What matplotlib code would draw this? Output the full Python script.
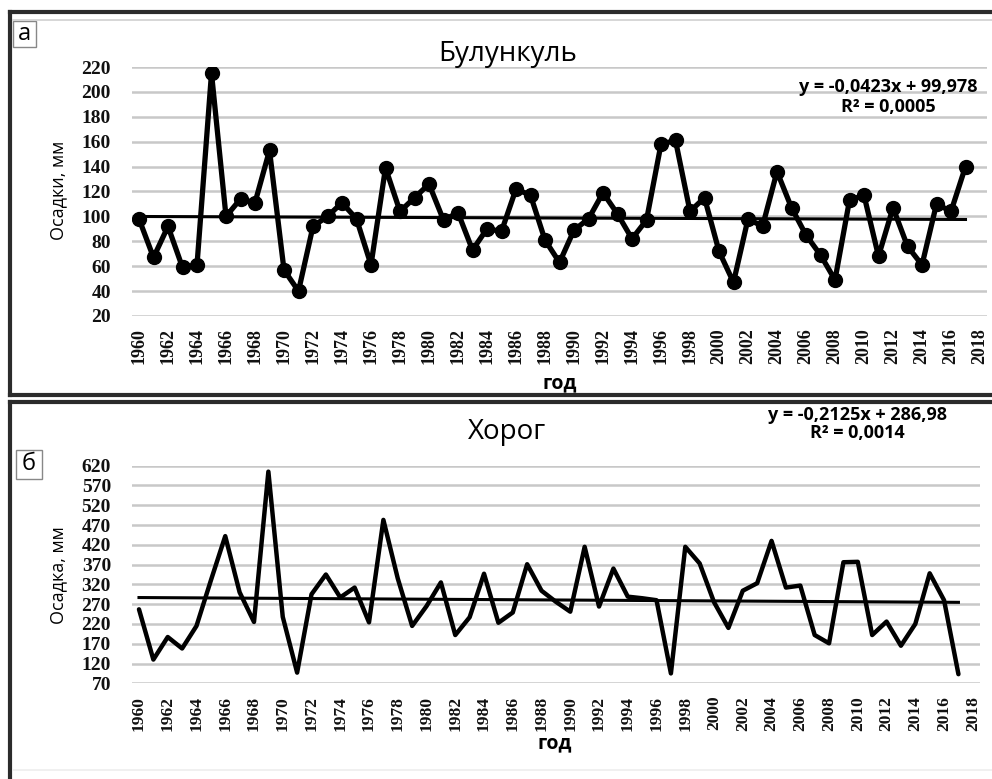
import numpy as np
import matplotlib.pyplot as plt
from matplotlib.lines import Line2D
from matplotlib.patches import Rectangle

years = list(range(1960, 2019))

# Булункуль, осадки, мм (1960-2017)
bulunkul = [98, 67, 92, 59, 61, 215, 100, 114, 111, 153,
            57, 40, 92, 100, 111, 98, 61, 139, 104, 115,
            126, 97, 103, 73, 90, 88, 122, 117, 81, 63,
            89, 98, 119, 102, 82, 97, 158, 161, 104, 115,
            72, 47, 98, 92, 136, 107, 85, 69, 49, 113,
            117, 68, 107, 76, 61, 110, 104, 140]

# Хорог, осадка, мм (1960-2017)
khorog = [257, 130, 187, 158, 215, 330, 442, 300, 225, 605,
          238, 97, 295, 345, 287, 312, 224, 483, 335, 215,
          265, 325, 192, 237, 347, 223, 249, 371, 304, 276,
          251, 415, 264, 360, 289, 285, 280, 95, 415, 373,
          275, 210, 304, 323, 430, 312, 317, 192, 171, 376,
          377, 192, 226, 165, 220, 348, 280, 93]

trend_top = (-0.0423, 99.978)
trend_bot = (-0.2125, 286.98)

W, H = 992, 779
fig = plt.figure(figsize=(W / 100, H / 100), dpi=100)
fig.patch.set_facecolor('white')


def px_axes(left, top, right, bottom):
    return fig.add_axes([left / W, 1 - bottom / H, (right - left) / W, (bottom - top) / H])


def fig_line(x0, y0, x1, y1, **kw):
    fig.add_artist(Line2D([x0 / W, x1 / W], [1 - y0 / H, 1 - y1 / H],
                          transform=fig.transFigure, **kw))


def draw_panel(ax, values, trend, yticks, lw, marker, xfs):
    n = len(values)
    idx = np.arange(n)
    ax.set_xlim(-0.5, len(years) - 0.5)
    ax.set_ylim(yticks[0], yticks[-1])
    ax.set_yticks(yticks)
    ax.set_yticklabels([str(v) for v in yticks], family='Liberation Serif',
                       fontweight='bold', fontsize=14)
    ax.set_xticks(range(0, len(years), 2))
    ax.set_xticklabels([str(y) for y in years[::2]], rotation=90,
                       family='Liberation Serif', fontweight='bold', fontsize=xfs)
    ax.tick_params(length=0, colors='#111111')
    ax.tick_params(axis='x', pad=9)
    ax.tick_params(axis='y', pad=15)
    for s in ax.spines.values():
        s.set_visible(False)
    ax.grid(axis='y', color='#c8c8c8', linewidth=1.8)
    ax.set_axisbelow(True)
    ax.set_facecolor('none')
    ax.plot(idx, values, color='black', linewidth=lw, solid_joinstyle='round',
            solid_capstyle='round', marker=marker, markersize=10, zorder=3)
    t = np.arange(1, n + 1)
    ax.plot(idx, trend[0] * t + trend[1], color='black', linewidth=2.2, zorder=2)


# --- panel а ---
ax1 = px_axes(131.75, 67, 987.25, 316)
draw_panel(ax1, bulunkul, trend_top, list(range(20, 221, 20)), 3.8, 'o', 13)
ax1.set_ylabel('Осадки, мм', family='Open Sans', fontsize=13)
ax1.yaxis.set_label_coords(-0.0757, 0.506)
fig.text(508 / W, 1 - 54 / H, 'Булункуль', family='Open Sans', fontsize=20,
         ha='center', va='center')
fig.text(888 / W, 1 - 97 / H, 'y = -0,0423x + 99,978\nR² = 0,0005', family='Open Sans',
         fontweight='bold', fontsize=13, ha='center', va='center', linespacing=1.1)
fig.text(560 / W, 1 - 383 / H, 'год', family='Open Sans', fontweight='bold',
         fontsize=14, ha='center', va='center')

# --- panel б ---
ax2 = px_axes(131.8, 465.7, 980, 683.3)
draw_panel(ax2, khorog, trend_bot, list(range(70, 621, 50)), 3.2, None, 12.5)
ax2.set_ylabel('Осадка, мм', family='Open Sans', fontsize=13)
ax2.yaxis.set_label_coords(-0.0764, 0.498)
fig.text(507 / W, 1 - 432 / H, 'Хорог', family='Open Sans', fontsize=20,
         ha='center', va='center')
fig.text(857 / W, 1 - 424 / H, 'y = -0,2125x + 286,98\nR² = 0,0014', family='Open Sans',
         fontweight='bold', fontsize=13, ha='center', va='center', linespacing=1.0)
fig.text(555 / W, 1 - 743 / H, 'год', family='Open Sans', fontweight='bold',
         fontsize=14, ha='center', va='center')

# frames
dark = dict(color='#2b2b2b', linewidth=3)
fig_line(10, 12, 992, 12, **dark)
fig_line(10, 12, 10, 395, **dark)
fig_line(10, 395, 992, 395, **dark)
fig_line(10, 402, 992, 402, **dark)
fig_line(10, 402, 10, 779, **dark)
fig_line(13, 20, 992, 20, color='#d0d0d0', linewidth=1.2)
fig_line(13, 770, 992, 770, color='#eeeeee', linewidth=1.2)

# panel letters
for (x0, y0, x1, y1, letter) in [(13, 21, 36, 47, 'а'), (16, 450, 42, 479, 'б')]:
    fig.add_artist(Rectangle((x0 / W, 1 - y1 / H), (x1 - x0) / W, (y1 - y0) / H,
                             transform=fig.transFigure, facecolor='white',
                             edgecolor='#888888', linewidth=1))
    fig.text((x0 + x1) / 2 / W, 1 - (y0 + y1) / 2 / H, letter, family='Open Sans',
             fontsize=17, ha='center', va='center')

fig.savefig('out.png', dpi=100)
